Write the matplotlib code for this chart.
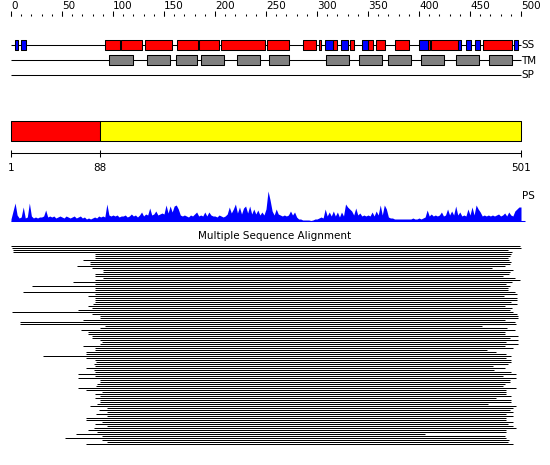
import matplotlib
matplotlib.use('Agg')
import matplotlib.pyplot as plt

# --- data (residue numbers) ---
ruler_major = [0, 50, 100, 150, 200, 250, 300, 350, 400, 450, 500]
ruler_minor = list(range(0, 501, 10))
seq_len = 500

# secondary structure elements: H = red, E = blue
ss_type = ['E', 'E', 'H', 'H', 'H', 'H', 'H', 'H', 'H', 'H', 'H', 'E', 'H', 'E', 'H',
           'E', 'H', 'H', 'H', 'E', 'H', 'H', 'E', 'E', 'E', 'H', 'E']
ss_start = [4.2, 9.8, 92.5, 108.1, 131.7, 163, 184.6, 206.2, 251.3, 286.6, 302, 307.8, 315.4,
            323.8, 332.6, 344.4, 349.7, 358.1, 376.8, 400, 408.5, 411.5, 438, 446.4, 455.2, 463, 493.1]
ss_end = [7.2, 15, 106.6, 128.1, 157.5, 183, 203.6, 248.7, 272.3, 298.7, 304, 315.4, 319.9,
          330.1, 336, 349.7, 354.6, 366.4, 389.9, 408.5, 410.8, 438, 441, 451, 459.5, 491.2, 496.8]

# transmembrane segments
tm_start = [96.4, 133.6, 161.8, 186.6, 221.6, 253.2, 308.8, 341.5, 369.9, 402, 436.3, 468.9]
tm_end = [119.3, 155.6, 182.1, 208.5, 243.8, 272.3, 331.1, 363.4, 392.5, 424.2, 459.1, 490.9]

# domain boundaries
domain_bounds = [1, 88, 501]
domain_colors = ['#ff0000', '#ffff00']

# PS profile, every 2 residues
ps_pos = list(range(0, 501, 2))
ps_height = [2, 10, 18, 6, 3, 4, 14, 3, 4, 18,
             5, 3, 4, 3, 4, 4, 5, 11, 4, 5,
             4, 5, 3, 4, 5, 4, 3, 5, 4, 3,
             4, 5, 3, 4, 5, 3, 4, 2, 3, 2,
             3, 4, 3, 5, 4, 5, 4, 17, 6, 5,
             6, 5, 6, 4, 5, 5, 6, 4, 5, 7,
             5, 6, 4, 6, 9, 5, 7, 6, 13, 6,
             7, 10, 6, 7, 8, 7, 16, 8, 15, 9,
             15, 16, 12, 6, 5, 6, 5, 4, 6, 5,
             7, 9, 5, 6, 5, 9, 5, 9, 6, 5,
             5, 4, 6, 5, 4, 5, 7, 14, 8, 12,
             17, 8, 14, 7, 13, 15, 8, 15, 7, 12,
             7, 11, 6, 9, 6, 12, 30, 21, 10, 6,
             12, 7, 6, 5, 6, 5, 6, 10, 6, 9,
             4, 2, 2, 1, 1, 1, 1, 0.5, 1, 2,
             2, 3, 4, 3, 12, 5, 9, 5, 10, 5,
             9, 4, 9, 5, 17, 14, 12, 10, 6, 13,
             6, 8, 5, 6, 5, 6, 5, 9, 5, 10,
             6, 16, 6, 16, 12, 4, 3, 3, 2, 2,
             2, 2, 2, 2, 2, 2, 2, 3, 2, 2,
             3, 2, 3, 4, 11, 5, 7, 5, 6, 5,
             6, 9, 5, 6, 12, 6, 10, 6, 15, 6,
             9, 5, 6, 5, 12, 6, 14, 6, 16, 12,
             9, 5, 6, 5, 6, 5, 6, 5, 6, 7,
             5, 6, 8, 5, 9, 6, 5, 10, 12, 14,
             14]

# multiple sequence alignment: first and last residue of each aligned sequence
msa_start = [0, 1, 2, 2, 82, 82, 82, 71, 77, 77, 65, 79, 90, 90, 82, 82, 90, 82, 61, 82,
             21, 82, 82, 12, 82, 75, 82, 82, 82, 80, 75, 79, 66, 1, 79, 87, 87, 71, 9, 9,
             92, 87, 69, 75, 75, 79, 79, 87, 89, 87, 71, 82, 82, 74, 74, 31, 74, 82, 83, 81,
             82, 74, 81, 82, 66, 82, 66, 87, 87, 84, 83, 66, 74, 89, 82, 87, 82, 87, 87, 84,
             77, 94, 86, 94, 83, 94, 74, 74, 89, 82, 94, 81, 75, 84, 64, 89, 53, 89, 94, 74]
msa_end = [499, 500, 487, 491, 490, 489, 487, 488, 490, 489, 484, 472, 492, 489, 488, 482, 494, 499, 491, 485,
           489, 487, 487, 494, 496, 483, 496, 496, 490, 496, 484, 491, 489, 492, 496, 497, 497, 484, 494, 495,
           462, 486, 494, 484, 484, 497, 489, 497, 485, 497, 484, 492, 467, 475, 485, 490, 485, 490, 490, 487,
           473, 484, 474, 490, 495, 482, 495, 489, 489, 484, 482, 495, 485, 485, 485, 490, 475, 490, 490, 468,
           495, 492, 489, 492, 485, 492, 485, 485, 492, 487, 492, 495, 485, 485, 406, 484, 485, 488, 487, 492]

# --- figure: x in residues, y in pixels from the top ---
W, H = 550, 465
px = 1.02          # pixels per residue
x0 = 11            # pixel of residue 0
fig = plt.figure(figsize=(W / 100, H / 100), dpi=100)
ax = fig.add_axes([0, 0, 1, 1])
ax.set_xlim(-x0 / px, (W - x0) / px)
ax.set_ylim(H, 0)
ax.axis('off')

fs = 7.5
lw = 0.75

# ruler
ax.vlines(ruler_minor, 14, 16.5, color='black', lw=lw)
ax.vlines(ruler_major, 11.5, 16.5, color='black', lw=lw)
for t in ruler_major:
    ax.text(t, 6, str(t), ha='left', va='center', fontsize=fs)

# SS track
y_ss, y_tm, y_sp = 45.5, 60.5, 75.5
for y in (y_ss, y_tm, y_sp):
    ax.hlines(y, 0, seq_len, color='black', lw=lw)
for lab, y in (('SS', y_ss), ('TM', y_tm), ('SP', y_sp)):
    ax.text(seq_len + 0.5, y, lab, ha='left', va='center', fontsize=fs)

colors = {'H': '#ff0000', 'E': '#0000ff'}
for kind in ('H', 'E'):
    segs = [(s, e - s) for s, e, k in zip(ss_start, ss_end, ss_type) if k == kind]
    ax.broken_barh(segs, (40.5, 10), facecolors=colors[kind], edgecolors='black', lw=lw, zorder=3)

ax.broken_barh([(s, e - s) for s, e in zip(tm_start, tm_end)], (55.5, 10),
               facecolors='#808080', edgecolors='black', lw=lw, zorder=3)

# domain bar
for i, c in enumerate(domain_colors):
    a, b = domain_bounds[i] - 1, domain_bounds[i + 1] - 1
    ax.broken_barh([(a, b - a)], (120.5, 20), facecolors=c, edgecolors='black', lw=lw)
ax.hlines(153, domain_bounds[0] - 1, domain_bounds[-1] - 1, color='black', lw=lw)
ax.vlines([b - 1 for b in domain_bounds], 150.5, 157, color='black', lw=lw)
for b in domain_bounds:
    ax.text(b - 1, 168, str(b), ha='center', va='center', fontsize=fs)

# PS profile
ps_base = 221
ax.fill_between(ps_pos, ps_base, [ps_base - h for h in ps_height], color='#0000ff', lw=0)
ax.hlines(ps_base - 0.5, 0, seq_len + 4, color='#0000ff', lw=lw)
ax.text(seq_len + 0.5, 196, 'PS', ha='left', va='center', fontsize=fs)

# alignment
ax.text(258.8, 236, 'Multiple Sequence Alignment', ha='center', va='center', fontsize=fs)
rows = [245.5 + 2 * i for i in range(len(msa_start))]
ax.hlines(rows, msa_start, msa_end, color='black', lw=0.72)

fig.savefig('out.png', dpi=100)
